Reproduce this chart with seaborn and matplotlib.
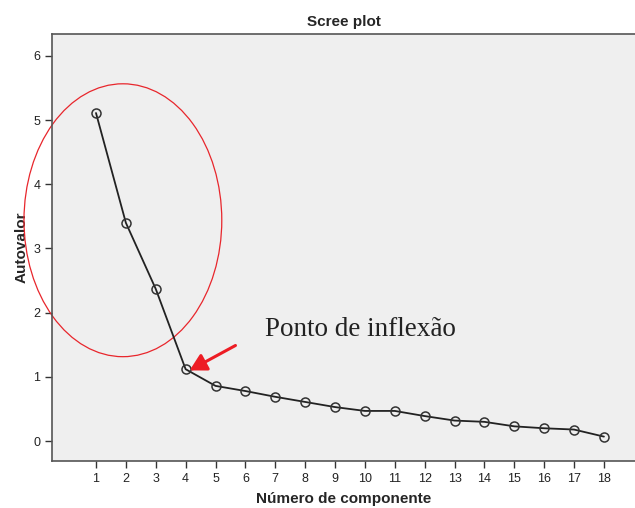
import numpy as np
import pandas as pd
import seaborn as sns
import matplotlib.pyplot as plt
from matplotlib.patches import Ellipse

# eigenvalues
componente = list(range(1, 19))
autovalor = [5.11, 3.40, 2.37, 1.12, 0.86, 0.78, 0.69, 0.61, 0.53,
             0.47, 0.47, 0.39, 0.32, 0.30, 0.23, 0.20, 0.18, 0.07]
y_ticks = [0, 1, 2, 3, 4, 5, 6]

df = pd.DataFrame({'componente': componente, 'autovalor': autovalor})

sns.set_style('ticks')
plt.rcParams['font.family'] = ['Liberation Sans', 'DejaVu Sans']

fig = plt.figure(figsize=(6.35, 5.08), dpi=100)
ax = fig.add_axes([0.082, 0.0925, 0.918, 0.8405])
ax.set_facecolor('#efefef')

sns.lineplot(data=df, x='componente', y='autovalor', ax=ax, color='#222222',
             linewidth=1.3, marker='o', markersize=6.5,
             markerfacecolor='none', markeredgecolor='#333333', markeredgewidth=1.1)

ax.set_xlim(-0.47, 19.04)
ax.set_ylim(-0.31, 6.34)
ax.set_xticks(componente)
ax.set_yticks(y_ticks)
ax.tick_params(labelsize=9, length=5, width=1, color='#333333', labelcolor='#222222')

for s in ['left', 'top', 'bottom']:
    ax.spines[s].set_color('#555555')
    ax.spines[s].set_linewidth(1.2)
ax.spines['right'].set_visible(False)

ax.set_title('Scree plot', fontsize=11, fontweight='bold', pad=6)
ax.set_xlabel('Número de componente', fontsize=11, fontweight='bold', labelpad=5)
ax.set_ylabel('Autovalor', fontsize=11, fontweight='bold', labelpad=3)

# red ellipse around first components
ell = Ellipse((1.9, 3.44), 6.62, 4.25, fill=False, edgecolor='#e8262c',
              linewidth=0.9, clip_on=False)
ax.add_patch(ell)

# inflection point annotation
ax.annotate('', xy=(4.05, 1.08), xytext=(5.75, 1.51),
            arrowprops=dict(arrowstyle='-|>,head_length=1.0,head_width=0.55',
                            color='#ed1c24', lw=2.2))
ax.text(6.65, 1.74, 'Ponto de inflexão', fontsize=19.5, color='#222222',
        family=['Liberation Serif', 'DejaVu Serif'], va='center', ha='left')

fig.savefig('out.png', dpi=100)
